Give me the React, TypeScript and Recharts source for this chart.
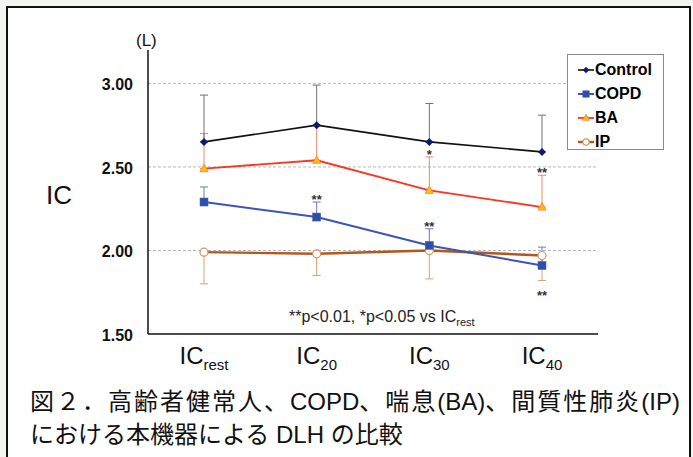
import React from "react";
import { LineChart, Line, XAxis, YAxis, ErrorBar, ReferenceLine, LabelList } from "recharts";

// IC (L) by stage, mean with one-sided SD whiskers
const CATEGORIES = ["rest", "20", "30", "40"];
const Y_TICKS = [1.5, 2.0, 2.5, 3.0];
const GRID_VALUES = [2.0, 2.5, 3.0];

const CONTROL = [2.65, 2.75, 2.65, 2.59];
const CONTROL_UP = [2.93, 2.99, 2.88, 2.81];
const COPD = [2.29, 2.2, 2.03, 1.91];
const COPD_UP = [2.38, 2.29, 2.13, 2.02];
const BA = [2.49, 2.54, 2.36, 2.26];
const BA_UP = [2.7, 2.75, 2.56, 2.45];
const IP = [1.99, 1.98, 2.0, 1.97];
const IP_LOW = [1.8, 1.85, 1.83, 1.82];

// significance marks vs IC rest
const BA_SIG = ["", "", "*", "**"];
const COPD_SIG = ["", "**", "**", "**"];
const COPD_SIG_BELOW = [false, false, false, true];

const W = 693;
const H = 457;
const PLOT_TOP = 50;
const PLOT_BOTTOM = 334;
const Y_MIN = 1.5;
const Y_MAX = 3.2;
const PX_PER_L = (PLOT_BOTTOM - PLOT_TOP) / (Y_MAX - Y_MIN);

const FONT = '"Liberation Sans", Arial, sans-serif';
const CAPTION_FONT = '"Liberation Sans", "Noto Sans CJK JP", sans-serif';

const data = CATEGORIES.map((c, i) => ({
  cat: c,
  control: CONTROL[i],
  controlErr: [0, CONTROL_UP[i] - CONTROL[i]],
  copd: COPD[i],
  copdErr: [0, COPD_UP[i] - COPD[i]],
  ba: BA[i],
  baErr: [0, BA_UP[i] - BA[i]],
  ip: IP[i],
  ipErr: [IP[i] - IP_LOW[i], 0],
  baSig: BA_SIG[i],
  copdSig: COPD_SIG[i],
}));

const diamond = (cx: number, cy: number, key?: any, s = 4) => (
  <polygon
    key={key}
    points={`${cx},${cy - s} ${cx + s},${cy} ${cx},${cy + s} ${cx - s},${cy}`}
    fill="#0d1a70"
  />
);
const square = (cx: number, cy: number, key?: any, s = 4) => (
  <rect key={key} x={cx - s} y={cy - s} width={2 * s} height={2 * s} fill="#2f4fa6" stroke="#3b5bb5" strokeWidth={0.5} />
);
const triangle = (cx: number, cy: number, key?: any, s = 4) => (
  <polygon
    key={key}
    points={`${cx},${cy - s - 0.5} ${cx + s},${cy + s - 1} ${cx - s},${cy + s - 1}`}
    fill="#ffc000"
    stroke="#ff8a40"
    strokeWidth={1}
  />
);
const circle = (cx: number, cy: number, key?: any, s = 4) => (
  <circle key={key} cx={cx} cy={cy} r={s} fill="#fff" stroke="#d29466" strokeWidth={1.2} />
);

const SERIES = [
  { key: "control", name: "Control", line: "#111111", width: 1.6, marker: diamond },
  { key: "copd", name: "COPD", line: "#3a55b4", width: 2, marker: square },
  { key: "ba", name: "BA", line: "#ff3320", width: 1.8, marker: triangle },
  { key: "ip", name: "IP", line: "#b5561f", width: 2.4, marker: circle },
];

function XTick({ x, y, payload }: any) {
  return (
    <text x={x} y={y + 22} textAnchor="middle" fontFamily={FONT} fill="#111">
      <tspan fontSize={24}>IC</tspan>
      <tspan fontSize={15} dy={6}>
        {payload.value}
      </tspan>
    </text>
  );
}

function sigLabel(sig: string[], upper: number[], mean: number[], below?: boolean[]) {
  return (props: any) => {
    const { x, y, index } = props;
    const s = sig[index];
    if (!s) return null;
    const ty = below && below[index] ? y + 34 : y - (upper[index] - mean[index]) * PX_PER_L + 2;
    return (
      <text x={x} y={ty} textAnchor="middle" fontFamily={FONT} fontSize={13} fontWeight="bold" fill="#333">
        {s}
      </text>
    );
  };
}

function LegendBox() {
  return (
    <div
      style={{
        position: "absolute",
        left: 567,
        top: 54,
        width: 97,
        height: 96,
        border: "1px solid #8a8a8a",
        background: "#fff",
        boxSizing: "border-box",
        paddingTop: 3,
      }}
    >
      {SERIES.map((s) => (
        <div key={s.key} style={{ display: "flex", alignItems: "center", height: 24 }}>
          <svg width={26} height={14} style={{ marginLeft: 8 }}>
            <line x1={2} y1={7} x2={18} y2={7} stroke={s.line} strokeWidth={s.width} />
            {s.marker(10, 7, undefined, 3.2)}
          </svg>
          <span
            style={{ fontFamily: FONT, fontWeight: "bold", fontSize: 16, color: "#000", marginLeft: -7 }}
          >
            {s.name}
          </span>
        </div>
      ))}
    </div>
  );
}

const cjk = { letterSpacing: 2 };

export default function App() {
  return (
    <div style={{ position: "fixed", left: 0, top: 0, width: W, height: H, background: "#f3f6ee", overflow: "hidden" }}>
      <div
        style={{
          position: "absolute",
          left: 6,
          top: 6,
          width: 685,
          height: 470,
          border: "2px solid #111",
          background: "#fff",
          boxSizing: "border-box",
        }}
      />
      <div style={{ position: "absolute", left: 0, top: 0 }}>
        <LineChart width={W} height={H} data={data} margin={{ top: PLOT_TOP, right: 95, bottom: 83, left: 88 }}>
          {GRID_VALUES.map((v) => (
            <ReferenceLine key={v} y={v} stroke="#b8b8b8" strokeDasharray="3 2" strokeWidth={1} />
          ))}
          <XAxis
            dataKey="cat"
            padding={{ left: 56, right: 56 }}
            height={40}
            tickLine={false}
            axisLine={{ stroke: "#111", strokeWidth: 1.5 }}
            tick={<XTick />}
            interval={0}
          />
          <YAxis
            width={60}
            domain={[Y_MIN, Y_MAX]}
            ticks={Y_TICKS}
            tickFormatter={(v: number) => v.toFixed(2)}
            tickLine={false}
            tickSize={0}
            tickMargin={15}
            axisLine={{ stroke: "#111", strokeWidth: 1.5 }}
            tick={{ fontFamily: FONT, fontSize: 16, fontWeight: "bold", fill: "#111", dy: 1 }}
          />
          <Line
            dataKey="ip"
            stroke="#b5561f"
            strokeWidth={2.4}
            isAnimationActive={false}
            dot={(p: any) => circle(p.cx, p.cy, p.index)}
          >
            <ErrorBar dataKey="ipErr" stroke="#d9a071" strokeWidth={1} width={4} direction="y" />
          </Line>
          <Line
            dataKey="copd"
            stroke="#3a55b4"
            strokeWidth={2}
            isAnimationActive={false}
            dot={(p: any) => square(p.cx, p.cy, p.index)}
          >
            <ErrorBar dataKey="copdErr" stroke="#6a78c4" strokeWidth={1} width={4} direction="y" />
            <LabelList dataKey="copdSig" content={sigLabel(COPD_SIG, COPD_UP, COPD, COPD_SIG_BELOW)} />
          </Line>
          <Line
            dataKey="ba"
            stroke="#ff3320"
            strokeWidth={1.8}
            isAnimationActive={false}
            dot={(p: any) => triangle(p.cx, p.cy, p.index)}
          >
            <ErrorBar dataKey="baErr" stroke="#f2876a" strokeWidth={1} width={4} direction="y" />
            <LabelList dataKey="baSig" content={sigLabel(BA_SIG, BA_UP, BA)} />
          </Line>
          <Line
            dataKey="control"
            stroke="#111"
            strokeWidth={1.6}
            isAnimationActive={false}
            dot={(p: any) => diamond(p.cx, p.cy, p.index)}
          >
            <ErrorBar dataKey="controlErr" stroke="#707070" strokeWidth={1} width={4} direction="y" />
          </Line>
        </LineChart>
      </div>
      <div style={{ position: "absolute", left: 136, top: 31, fontFamily: FONT, fontSize: 17, color: "#111" }}>(L)</div>
      <div style={{ position: "absolute", left: 46, top: 180, fontFamily: FONT, fontSize: 26, color: "#111" }}>IC</div>
      <div
        style={{
          position: "absolute",
          left: 289,
          top: 307,
          fontFamily: FONT,
          fontSize: 16,
          lineHeight: "20px",
          color: "#222",
          whiteSpace: "nowrap",
        }}
      >
        **p&lt;0.01, *p&lt;0.05 vs IC<span style={{ fontSize: 11, position: "relative", top: 4 }}>rest</span>
      </div>
      <LegendBox />
      <div
        style={{
          position: "absolute",
          left: 30,
          top: 386,
          fontFamily: CAPTION_FONT,
          fontSize: 24,
          lineHeight: "32px",
          color: "#111",
          whiteSpace: "nowrap",
        }}
      >
        <span style={cjk}>図２．高齢者健常人、</span>COPD<span style={cjk}>、喘息</span>(BA)
        <span style={cjk}>、間質性肺炎</span>(IP)
      </div>
      <div
        style={{
          position: "absolute",
          left: 30,
          top: 419,
          fontFamily: CAPTION_FONT,
          fontSize: 24,
          lineHeight: "32px",
          color: "#111",
          whiteSpace: "nowrap",
        }}
      >
        における本機器による DLH の比較
      </div>
    </div>
  );
}
